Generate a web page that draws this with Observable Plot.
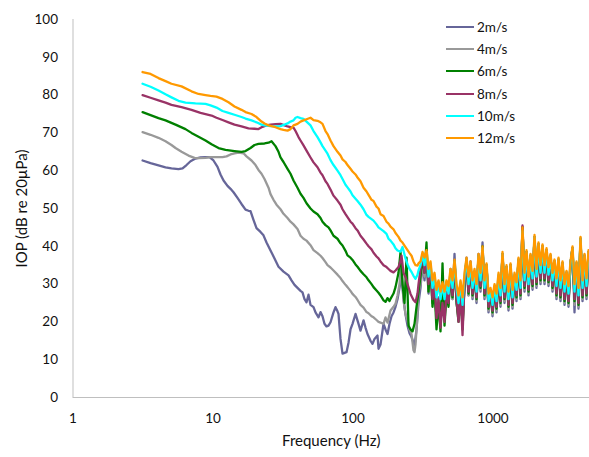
<!DOCTYPE html>
<html><head><meta charset="utf-8">
<script src="https://cdn.jsdelivr.net/npm/d3@7"></script>
<script src="https://cdn.jsdelivr.net/npm/@observablehq/plot@0.6"></script>
<style>
body{margin:0;background:#fff;}
#wrap{position:relative;width:589px;height:457px;font-family:Lato,"Open Sans",sans-serif;}
.leg{position:absolute;left:446px;height:16px;display:flex;align-items:center;font-size:13.5px;color:#111;}
.leg span.sw{display:inline-block;width:28px;height:2.5px;margin-right:3px;}
</style></head><body><div id="wrap"></div>
<script>
const SERIES_NAMES = ["2m/s","4m/s","6m/s","8m/s","10m/s","12m/s"];
const SERIES_COLORS = ["#666699","#999999","#008000","#993366","#00FFFF","#FF9900"];
const X_TICKS = [1,10,100,1000];
const Y_TICKS = [0,10,20,30,40,50,60,70,80,90,100];
const X_TITLE = "Frequency (Hz)";
const Y_TITLE = "IOP (dB re 20µPa)";

// low/mid frequency part: [frequency Hz, level dB]
const LF_2 = [[3.14,62.7],[3.58,62.0],[4.08,61.4],[4.58,60.9],[5.05,60.6],[5.67,60.4],[6.06,60.6],[6.47,61.5],[6.91,62.5],[7.50,63.2],[8.14,63.5],[8.84,63.6],[9.44,63.6],[10.08,62.7],[10.77,61.0],[11.31,59.0],[11.89,57.4],[12.69,56.0],[13.34,55.2],[14.01,54.3],[14.96,52.8],[15.98,51.2],[17.07,49.7],[17.93,49.4],[18.53,49.3],[19.46,47.0],[20.45,44.8],[21.84,43.8],[22.94,42.9],[24.11,41.0],[25.75,38.9],[27.50,36.8],[29.37,34.6],[31.88,33.3],[34.63,32.3],[36.37,31.0],[38.21,29.8],[40.14,29.0],[42.17,28.2],[43.58,27.8],[45.04,26.0],[46.55,25.2],[48.10,27.2],[49.71,24.5],[52.23,23.9],[53.97,22.5],[56.70,21.2],[58.61,22.6],[60.55,21.5],[62.57,19.5],[64.68,18.8],[66.83,19.0],[69.07,19.9],[72.57,22.5],[74.99,23.9],[77.48,22.8],[78.77,22.1],[81.41,15.5],[84.14,11.6],[86.95,11.8],[89.85,12.0],[92.88,14.5],[95.96,18.0],[99.18,19.5],[104.2,22.1],[109.5,19.5],[113.1,17.7],[118.9,20.4],[122.8,18.5],[126.9,16.8],[133.4,15.0],[137.8,14.2],[142.4,15.5],[149.6,16.4],[152.1,12.9],[157.2,14.0],[165.2,19.5],[170.7,18.0],[176.4,16.8],[182.3,19.5],[188.4,21.5],[194.7,22.5],[201.2,24.0],[207.9,26.0],[214.8,29.0],[222.0,32.0],[229.5,26.0],[237.1,22.0],[245.1,19.0],[253.3,17.0],[261.8,16.0],[270.4,14.5],[275.0,13.5],[284.2,18.0],[293.7,25.0]];
const LF_4 = [[3.14,70.2],[3.58,69.5],[4.08,68.7],[4.58,67.8],[5.05,66.8],[5.40,66.0],[5.96,65.0],[6.68,64.0],[7.38,63.4],[7.88,63.3],[8.84,63.4],[9.60,63.6],[10.59,63.6],[11.69,63.6],[12.49,63.8],[13.34,64.3],[14.24,64.6],[15.21,64.8],[16.52,64.6],[17.35,63.8],[18.84,62.7],[20.12,61.5],[21.13,60.2],[22.21,59.2],[23.33,57.8],[24.92,55.5],[25.75,53.8],[27.05,52.3],[28.42,51.0],[30.35,49.8],[31.88,48.6],[34.06,47.5],[35.78,46.5],[37.58,45.8],[40.14,44.6],[42.17,42.8],[44.30,42.0],[46.55,41.5],[49.71,40.3],[52.23,39.0],[55.78,38.2],[58.61,37.5],[60.55,36.9],[63.62,35.8],[65.74,35.0],[69.07,34.4],[72.57,33.6],[77.48,32.5],[81.41,31.6],[84.14,30.8],[88.39,29.8],[91.33,29.2],[95.96,28.2],[99.18,27.4],[104.2,26.6],[107.7,25.8],[113.1,24.5],[118.9,23.8],[124.9,22.6],[129.1,22.3],[135.6,21.5],[140.1,21.2],[147.2,20.5],[152.1,20.0],[157.2,19.8],[165.2,19.5],[170.7,21.2],[176.4,19.8],[185.3,23.0],[194.7,24.0],[201.2,24.8],[207.9,27.0],[214.8,30.0],[222.0,36.0],[229.5,25.7],[237.1,22.0],[245.1,20.4],[253.3,18.0],[261.8,16.8],[270.4,12.5],[275.0,12.0],[279.5,14.0],[288.9,22.0],[293.7,28.0]];
const LF_6 = [[3.14,75.5],[3.58,74.7],[4.08,73.9],[4.58,73.3],[5.40,72.2],[6.36,71.0],[7.02,70.0],[7.88,69.0],[8.84,68.0],[9.76,67.0],[10.95,66.0],[12.28,65.5],[14.24,65.2],[15.98,65.0],[17.07,65.2],[18.53,66.0],[19.79,66.8],[21.13,67.1],[23.33,67.2],[24.92,67.4],[26.18,67.8],[27.95,66.5],[29.37,65.0],[30.35,63.5],[31.88,62.3],[34.06,60.5],[35.78,59.2],[37.58,57.4],[40.14,55.5],[42.17,53.9],[44.30,52.8],[46.55,51.4],[49.71,50.0],[52.23,49.2],[55.78,48.5],[58.61,47.5],[60.55,46.5],[63.62,45.6],[66.83,45.0],[69.07,44.2],[72.57,42.8],[77.48,42.0],[81.41,40.8],[84.14,40.2],[88.39,38.8],[91.33,37.6],[95.96,37.0],[99.18,36.4],[104.2,35.2],[107.7,34.6],[113.1,33.5],[118.9,32.6],[124.9,31.8],[129.1,31.0],[135.6,30.0],[140.1,29.2],[147.2,28.3],[152.1,27.7],[157.2,27.0],[165.2,25.7],[170.7,25.3],[176.4,26.3],[182.3,25.5],[185.3,26.1],[194.7,27.5],[201.2,29.2],[211.3,33.0],[218.5,38.5],[225.7,30.0],[233.3,25.0],[241.1,37.0],[249.2,19.0],[257.5,18.0],[266.1,17.5],[275.0,19.5],[284.2,24.0],[293.7,28.0]];
const LF_8 = [[3.14,80.0],[3.58,79.3],[4.08,78.6],[4.58,78.0],[5.05,77.4],[5.96,76.8],[7.02,76.1],[8.14,75.3],[9.76,74.6],[10.59,74.0],[11.69,73.4],[12.90,72.8],[14.24,72.2],[15.98,71.7],[17.93,71.2],[19.79,71.1],[21.13,71.0],[22.57,71.6],[24.11,72.0],[25.75,72.2],[27.95,72.3],[30.35,72.4],[32.41,72.0],[34.06,71.7],[35.78,71.5],[37.58,71.4],[38.85,70.5],[40.80,68.9],[42.17,68.0],[44.30,66.7],[46.55,65.3],[49.71,63.5],[52.23,62.2],[55.78,60.9],[58.61,59.5],[60.55,58.8],[63.62,57.2],[65.74,56.5],[69.07,55.0],[72.57,53.4],[77.48,52.1],[81.41,51.0],[84.14,49.8],[88.39,48.5],[91.33,47.7],[95.96,46.5],[99.18,46.0],[104.2,44.8],[107.7,44.2],[113.1,42.8],[118.9,41.8],[124.9,40.7],[129.1,40.0],[135.6,39.2],[140.1,38.3],[147.2,37.3],[152.1,36.8],[157.2,36.0],[165.2,35.0],[173.5,34.5],[179.3,34.0],[185.3,33.5],[194.7,33.1],[201.2,33.6],[211.3,34.5],[218.5,36.2],[222.0,37.5],[229.5,33.0],[237.1,31.8],[245.1,30.0],[257.5,27.4],[270.4,25.8],[279.5,25.2],[288.9,27.5],[293.7,30.0]];
const LF_10 = [[3.14,83.0],[3.58,82.2],[4.08,81.2],[4.58,80.2],[5.05,79.4],[5.67,78.5],[6.36,78.0],[7.50,77.8],[8.84,77.7],[9.60,77.3],[10.59,76.7],[11.69,75.8],[12.90,75.3],[14.24,74.8],[15.98,74.2],[17.07,73.8],[18.84,73.3],[20.45,72.8],[22.21,72.2],[23.33,72.0],[25.75,71.8],[28.42,71.7],[30.35,71.8],[32.41,72.2],[34.06,72.5],[35.78,73.0],[37.58,73.3],[38.85,74.0],[40.14,74.2],[42.17,73.9],[44.30,73.7],[46.55,73.0],[49.71,72.0],[52.23,70.5],[55.78,68.9],[58.61,67.5],[60.55,66.5],[63.62,65.3],[65.74,64.5],[69.07,62.8],[72.57,61.5],[77.48,60.0],[81.41,58.8],[84.14,57.8],[88.39,56.3],[91.33,55.6],[95.96,54.5],[99.18,53.5],[104.2,52.6],[107.7,52.0],[113.1,51.0],[118.9,49.8],[124.9,48.3],[129.1,47.8],[135.6,47.2],[140.1,46.8],[147.2,45.8],[152.1,45.0],[157.2,44.6],[165.2,44.0],[173.5,43.3],[179.3,42.0],[185.3,41.5],[194.7,40.5],[201.2,39.5],[207.9,38.9],[218.5,38.6],[225.7,39.8],[237.1,36.8],[245.1,35.2],[253.3,34.0],[261.8,33.2],[270.4,32.2],[279.5,31.4],[288.9,32.5],[293.7,33.6]];
const LF_12 = [[3.14,86.1],[3.58,85.6],[4.08,84.5],[4.58,83.7],[5.05,83.0],[5.96,82.3],[7.02,81.0],[7.88,80.3],[8.84,80.0],[9.60,79.8],[10.59,79.6],[11.69,79.0],[12.90,78.1],[14.24,77.0],[15.98,76.1],[17.07,75.5],[18.84,75.0],[20.45,74.2],[22.21,73.0],[23.33,72.5],[24.92,72.0],[27.95,71.5],[30.35,71.0],[31.88,70.8],[34.06,70.6],[35.78,71.0],[37.58,72.0],[40.14,72.4],[42.17,73.0],[44.30,73.3],[46.55,73.6],[49.71,74.0],[52.23,73.4],[55.78,73.2],[58.61,72.8],[60.55,72.4],[63.62,70.5],[65.74,69.7],[69.07,68.0],[72.57,66.5],[77.48,65.0],[81.41,64.0],[84.14,63.0],[88.39,62.3],[91.33,61.5],[95.96,60.5],[99.18,59.8],[104.2,59.0],[107.7,58.2],[113.1,57.2],[118.9,55.5],[124.9,54.5],[129.1,53.6],[135.6,52.3],[140.1,52.0],[147.2,50.5],[152.1,50.0],[157.2,48.5],[165.2,48.0],[173.5,46.5],[179.3,46.0],[185.3,45.2],[194.7,44.5],[201.2,43.5],[211.3,42.5],[218.5,41.5],[225.7,41.0],[237.1,39.8],[245.1,39.0],[253.3,38.2],[261.8,37.5],[270.4,36.0],[279.5,35.0],[288.9,34.9],[293.7,35.5]];

// high-frequency part: shared frequency grid (Hz) and levels per series
const HF_FREQ = [303.5,313.6,324.1,334.9,346.1,357.7,369.6,382.0,394.8,408.0,421.7,435.8,450.4,465.5,481.0,497.1,513.7,530.9,548.7,567.0,586.0,605.6,625.9,646.8,668.4,690.8,713.9,737.8,762.5,788.0,814.4,841.4,869.6,898.7,928.8,959.8,991.9,1025,1059,1095,1131,1169,1208,1249,1290,1334,1378,1424,1472,1521,1572,1624,1679,1735,1793,1853,1915,1979,2045,2113,2184,2257,2333,2411,2491,2574,2661,2749,2841,2936,3035,3136,3241,3350,3461,3577,3697,3820,3948,4080,4217,4358,4503,4654,4809];
const HF_2 = [29,35.5,31,37.5,27.5,34,25,29.5,21.5,26.5, 21,27.5,21.5,28.5,25,34,26,38,25,21.5, 28.5,19.5,30,37,27,36,26,33,25,38, 28,41,26,35,22.5,28,21.5,29,22.5,32, 24,38,25,34.5,23,35,23.5,32,25.5,36.5, 26,45,28,38.5,27,37.5,28.5,42.5,29,40.5, 30,40,30,39,29.5,37.5,28,36,26,36.5, 25.5,35.5,24.5,33,24,35.5,39.5,22.5,35.5,23.5, 42,25.5,37.5,26,38.5];
const HF_4 = [30,36,32,38,28,34,25,29,21,26, 20,27,21,28,24.5,33,26,36,25,21, 28,19,30,36.5,27,35,26.5,33,25.5,37.5, 28.5,39.5,26.5,35,23,28,22,29,23,32, 24.5,38,25.5,34.5,23.5,35,24,32,26,36.5, 26.5,45,28.5,38.5,27.5,37.5,29,42.5,29.5,40.5, 30.5,40,30.5,39,30,37.5,28.5,36,26.5,36.5, 26,35.5,25,33,24.5,35.5,39.5,24.5,35.5,24, 42,26,37.5,26.5,38.5];
const HF_6 = [32,37,33,41,28,35,24,29,18,25, 17.5,35.5,19,27.5,24,33,26.5,36,25.5,20, 28,18,30,36.5,27.5,35,27,33,26,37.5, 29,40,27,35,23.5,28,22.5,29,23.5,32, 25,38,26,34.5,24,35,24.5,32,26.5,36.5, 27,45,29,38.5,28,37.5,29.5,42.5,30,40.5, 31,40,31,39,30.5,37.5,29,36,27,36.5, 26.5,35.5,25.5,33,25,35.5,39.5,25.5,35.5,24.5, 42,26.5,37.5,27,38.5];
const HF_8 = [34,38,33,38.5,30,35,26,30,21,26, 18.5,25,20,28,25,33,27,36,26,20, 28,16.5,30,36.5,28,35,27.5,33,26.5,37.5, 29.5,39.5,27.5,35,24,28,23,29,24,32, 25.5,38,26.5,34.5,24.5,35,25,32,27,36.5, 27.5,45.5,29.5,38.5,28.5,37.5,30,42.5,30.5,40.5, 31.5,40,31.5,39,31,37.5,29.5,36,27.5,36.5, 27,35.5,26,33,25.5,35.5,39.5,26,35.5,25, 42,27,37.5,27.5,38.5];
const HF_10 = [35,38,35,38.5,32,35.5,29,32.5,26.5,30.5, 26,30,26,30.5,27.5,33.5,29,36,29,25, 30.5,24.5,32,36.5,30,35.5,29,33.5,28,37.5, 31,39.5,29,35,25.5,28.5,24.5,29.5,25.5,32.5, 27,38,28,34.5,26,35,26.5,32.5,28.5,36.5, 29,44,31,38.5,30,37.5,31.5,42.5,32,40.5, 33,40,33,39,32.5,37.5,31,36,29.5,36.5, 29,35.5,28,33,27.5,35.5,39.5,28,35.5,27, 42,29,37.5,29.5,38.5];
const HF_12 = [36,38.5,37,39,34,36,31,33,28.5,31, 28,30.5,28,31,29.5,34,31,36.5,30,27, 31,26.5,33,37,32,36,31,34,30,38, 33,40,31,35.5,27.5,29,26.5,30,27.5,33, 29,38.5,30,35,28,35.5,28.5,33,30.5,37, 31,45,33,39,32,38,33.5,43,34,41, 35,40.5,35,39.5,34.5,38,33,36.5,31.5,37, 31,36,30,33.5,29.5,36,40,30,36,29, 42.5,31,38,31.5,39];

const LF = [LF_2, LF_4, LF_6, LF_8, LF_10, LF_12];
const HF = [HF_2, HF_4, HF_6, HF_8, HF_10, HF_12];

const rows = [];
SERIES_NAMES.forEach((name, i) => {
  LF[i].forEach(([f, v]) => rows.push({name, f, v}));
  HF_FREQ.forEach((f, j) => rows.push({name, f, v: HF[i][j]}));
});

const chart = Plot.plot({
  width: 589, height: 457,
  marginLeft: 72.5, marginRight: 0, marginTop: 19, marginBottom: 60,
  style: {fontFamily: "Lato, 'Open Sans', sans-serif", fontSize: "13.5px", color: "#111", background: "#fff"},
  x: {type: "log", domain: [1, 4888]},
  y: {domain: [0, 100]},
  color: {domain: SERIES_NAMES, range: SERIES_COLORS},
  marks: [
    Plot.axisY({ticks: Y_TICKS, tickSize: 0, tickPadding: 15, label: null}),
    Plot.axisX({ticks: X_TICKS, tickSize: 0, tickPadding: 16, tickFormat: d => String(d), label: null}),
    Plot.text([X_TITLE], {frameAnchor: "bottom", dy: 48, fontSize: 15, fill: "#111"}),
    Plot.text([Y_TITLE], {frameAnchor: "left", textAnchor: "middle", dx: -50.5, rotate: -90, fontSize: 15, fill: "#111"}),
    Plot.ruleX([1], {stroke: "#bfbfbf", strokeWidth: 1}),
    Plot.ruleY([0], {stroke: "#bfbfbf", strokeWidth: 1}),
    Plot.line(rows, {x: "f", y: "v", z: "name", stroke: "name", strokeWidth: 2.3, strokeLinejoin: "round"})
  ]
});
const wrap = document.getElementById("wrap");
wrap.appendChild(chart);
const LEG_TOP = [19, 41, 63, 86, 108, 130];
SERIES_NAMES.forEach((name, i) => {
  const d = document.createElement("div");
  d.className = "leg";
  d.style.top = LEG_TOP[i] + "px";
  d.innerHTML = `<span class="sw" style="background:${SERIES_COLORS[i]}"></span>${name}`;
  wrap.appendChild(d);
});
</script></body></html>
